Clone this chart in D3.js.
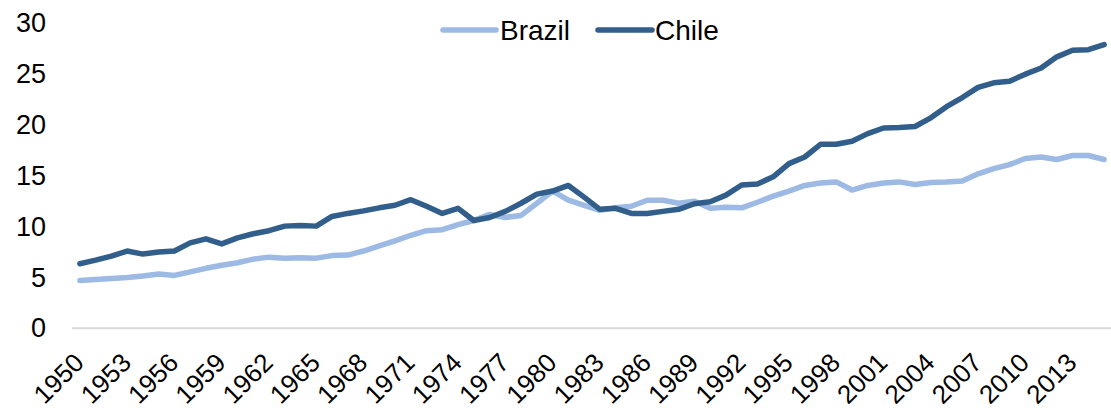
<!DOCTYPE html>
<html>
<head>
<meta charset="utf-8">
<script src="https://cdn.jsdelivr.net/npm/d3@7"></script>
<style>
  html, body { margin: 0; padding: 0; background: #fff; }
  svg { display: block; }
  text { font-family: "Liberation Sans", Arial, sans-serif; fill: #000; }
</style>
</head>
<body>
<svg id="chart" width="1111" height="408"></svg>
<script>
const years = d3.range(1950, 2016);
const brazil = [
  4.7, 4.8, 4.9, 5.0, 5.15, 5.35, 5.2, 5.55, 5.9, 6.2,
  6.45, 6.8, 7.0, 6.9, 6.95, 6.9, 7.15, 7.2, 7.6, 8.1,
  8.6, 9.15, 9.6, 9.7, 10.2, 10.6, 11.2, 10.9, 11.1, 12.3,
  13.5, 12.6, 12.1, 11.6, 11.85, 12.0, 12.6, 12.6, 12.3, 12.5,
  11.8, 11.9, 11.85, 12.4, 13.0, 13.5, 14.05, 14.3, 14.4, 13.6,
  14.05, 14.3, 14.4, 14.15, 14.35, 14.4, 14.5, 15.2, 15.7, 16.1,
  16.7, 16.85, 16.6, 17.0, 17.0, 16.6
];
const chile = [
  6.35, 6.7, 7.1, 7.6, 7.3, 7.5, 7.6, 8.4, 8.8, 8.3,
  8.9, 9.3, 9.6, 10.05, 10.1, 10.05, 11.0, 11.3, 11.55, 11.85,
  12.1, 12.65, 12.0, 11.3, 11.8, 10.6, 10.9, 11.5, 12.3, 13.2,
  13.5, 14.05, 12.9, 11.7, 11.8, 11.3, 11.3, 11.5, 11.7, 12.25,
  12.45, 13.1, 14.1, 14.2, 14.9, 16.2, 16.85, 18.1, 18.1, 18.4,
  19.15, 19.7, 19.75, 19.85, 20.7, 21.8, 22.7, 23.7, 24.15, 24.3,
  25.0, 25.6, 26.7, 27.35, 27.4, 27.9
];
const yTicks = [0, 5, 10, 15, 20, 25, 30];
const xTickYears = d3.range(1950, 2016, 3);
const seriesNames = ["Brazil", "Chile"];
const seriesColors = ["#9cbae4", "#325e8c"];

const svg = d3.select("#chart");
const x = d3.scalePoint().domain(years).range([72, 1112]).padding(0.5);
const y = d3.scaleLinear().domain([0, 30]).range([328.3, 23.3]);

// y axis labels
const yAxis = svg.append("g")
  .attr("transform", "translate(46,0)")
  .call(d3.axisLeft(y).tickValues(yTicks).tickSize(0).tickPadding(0));
yAxis.select(".domain").remove();
yAxis.selectAll("text").style("font-size", "27px").style("font-family", '"Liberation Sans", Arial, sans-serif').attr("fill", "#000");

// x axis
const xAxis = svg.append("g")
  .attr("transform", "translate(0,328.3)")
  .call(d3.axisBottom(x).tickValues(xTickYears).tickSize(0).tickSizeOuter(0).tickFormat(d => String(d)));
xAxis.select(".domain").attr("stroke", "#d9d9d9").attr("stroke-width", 2).attr("d", "M72,0H1112");
xAxis.selectAll(".tick text")
  .style("font-size", "26px")
  .style("font-family", '"Liberation Sans", Arial, sans-serif')
  .attr("fill", "#000")
  .attr("text-anchor", "end")
  .attr("dy", null)
  .attr("y", 0)
  .attr("transform", "translate(5,36) rotate(-45)");

// lines
const seriesData = [brazil, chile];
const line = d3.line().x((d, i) => x(years[i])).y(d => y(d));
seriesData.forEach((vals, k) => {
  svg.append("path")
    .datum(vals)
    .attr("fill", "none")
    .attr("stroke", seriesColors[k])
    .attr("stroke-width", 5.5)
    .attr("stroke-linejoin", "round")
    .attr("stroke-linecap", "round")
    .attr("d", line);
});

// legend
const legendItems = [
  { name: seriesNames[0], color: seriesColors[0], x0: 443, x1: 496, tx: 500 },
  { name: seriesNames[1], color: seriesColors[1], x0: 598, x1: 652, tx: 655 }
];
const lg = svg.append("g");
legendItems.forEach(it => {
  lg.append("line").attr("x1", it.x0).attr("x2", it.x1).attr("y1", 30).attr("y2", 30)
    .attr("stroke", it.color).attr("stroke-width", 5.5).attr("stroke-linecap", "round");
  lg.append("text").attr("x", it.tx).attr("y", 40).style("font-size", "28px").text(it.name);
});
</script>
</body>
</html>
